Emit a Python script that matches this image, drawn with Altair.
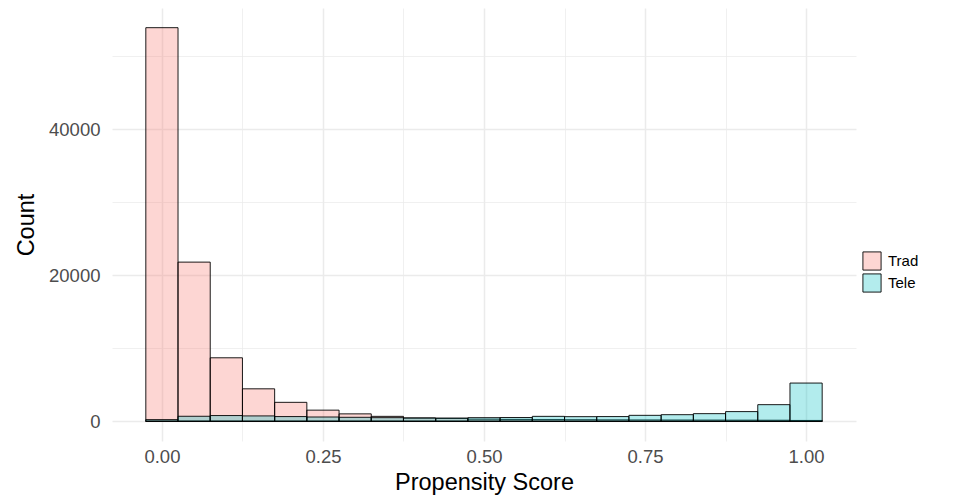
import altair as alt
import pandas as pd

# bin centres of the histogram (bin width 0.05)
centers = [round(i * 0.05, 2) for i in range(21)]
trad = [53900, 21800, 8700, 4450, 2600, 1530, 1020, 680, 450, 400, 290,
        260, 240, 220, 200, 190, 180, 170, 160, 150, 120]
tele = [230, 690, 790, 740, 650, 590, 550, 500, 460, 440, 500,
        520, 680, 640, 650, 820, 910, 1050, 1330, 2280, 5240]
groups = ["Trad", "Tele"]
colors = ["#F8766D", "#00BFC4"]
key_colors = ["#FDD6D3", "#B3ECED"]  # the same colours at 30 % over white
x_ticks = [0, 0.125, 0.25, 0.375, 0.5, 0.625, 0.75, 0.875, 1.0]
y_ticks = [0, 10000, 20000, 30000, 40000, 50000]

bw = 0.05
rows = []
for gi, (g, vals) in enumerate(zip(groups, [trad, tele])):
    for c, v in zip(centers, vals):
        rows.append({"group": g, "gi": gi, "x0": c - bw / 2, "x1": c + bw / 2, "count": v})
df = pd.DataFrame(rows)

ymax = max(trad + tele)
xlo, xhi = -bw / 2, 1 + bw / 2
xpad = (xhi - xlo) * 0.05
ypad = ymax * 0.05

xscale = alt.Scale(domain=[xlo - xpad, xhi + xpad], nice=False, zero=False)
yscale = alt.Scale(domain=[-ypad, ymax + ypad], nice=False, zero=False)

xaxis = alt.Axis(values=x_ticks, title="Propensity Score",
                 labelExpr="(datum.value * 8) % 2 == 0 ? format(datum.value, '.2f') : ''",
                 gridWidth={"condition": {"test": "(datum.value * 8) % 2 == 0", "value": 1.5}, "value": 0.75})
yaxis = alt.Axis(values=y_ticks, title="Count",
                 labelExpr="datum.value % 20000 == 0 ? format(datum.value, 'd') : ''",
                 gridWidth={"condition": {"test": "datum.value % 20000 == 0", "value": 1.5}, "value": 0.75})

base = alt.Chart(df)

# zero-height bars on the baseline: they only carry the legend
legend_layer = base.mark_bar(stroke="black", strokeWidth=0.9).encode(
    x=alt.X("x0:Q", scale=xscale, axis=xaxis),
    x2="x1:Q",
    y=alt.Y("count:Q", scale=yscale, axis=yaxis),
    y2=alt.datum(0),
    color=alt.Color("group:N", sort=groups,
                    scale=alt.Scale(domain=groups, range=key_colors),
                    legend=alt.Legend(title=None, orient="none", legendX=750, legendY=243,
                                      symbolType="square", symbolSize=330,
                                      symbolStrokeColor="black", symbolStrokeWidth=0.9,
                                      labelFontSize=15, labelColor="black", rowPadding=0,
                                      labelOffset=6, labelFont="Liberation Sans")),
).transform_calculate(count="0")

bars = base.mark_bar(fillOpacity=0.3, stroke="black", strokeWidth=0.9).encode(
    x=alt.X("x0:Q", scale=xscale, axis=xaxis),
    x2="x1:Q",
    y=alt.Y("count:Q", scale=yscale, axis=yaxis),
    y2=alt.datum(0),
    fill=alt.Fill("group:N", scale=alt.Scale(domain=groups, range=colors), legend=None),
    order=alt.Order("gi:Q"),
)

chart = alt.layer(legend_layer, bars).properties(
    width=744, height=433,
    autosize=alt.AutoSizeParams(type="none"),
    padding={"left": 104, "top": 0, "right": 107, "bottom": 54},
).configure_view(stroke=None).configure_axis(
    domain=False, ticks=False, gridColor="#EBEBEB",
    labelFont="Liberation Sans", titleFont="Liberation Sans",
    labelFontSize=18.5, titleFontSize=23.5, labelColor="#4D4D4D", titleColor="black",
    titleFontWeight="normal",
).configure_axisY(titlePadding=10, labelPadding=12).configure_axisX(titlePadding=5, labelPadding=6)

chart.save("out.html", embed_options={"renderer": "svg", "actions": False})
